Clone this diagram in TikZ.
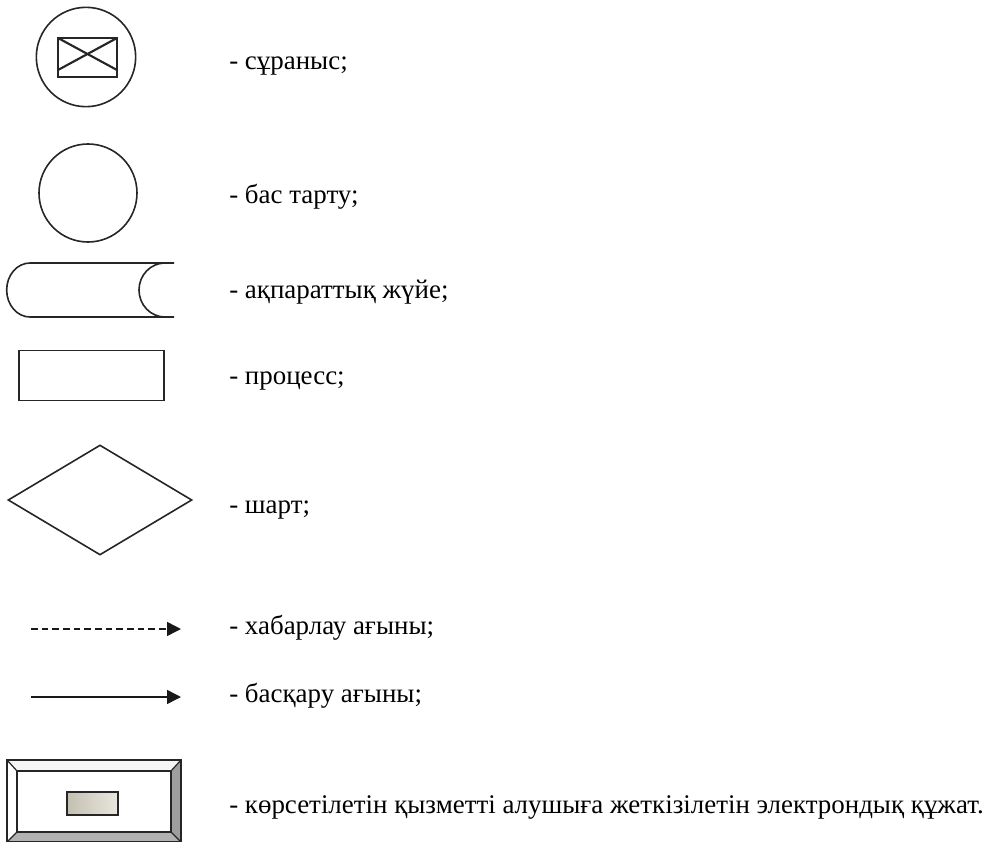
\documentclass[tikz,border=0pt]{standalone}
\usepackage{fontspec}
\setmainfont{Liberation Serif}
\usetikzlibrary{arrows.meta,shapes.geometric}
\definecolor{bevR}{gray}{0.62}
\definecolor{bevB}{gray}{0.70}
\definecolor{bevT}{gray}{0.96}
\definecolor{docA}{RGB}{196,192,176}
\definecolor{docB}{RGB}{232,230,222}
\tikzset{
  shp/.style={draw=black!85, line width=1.2pt},
  lbl/.style={anchor=base west, inner sep=0pt, font=\fontsize{20.2pt}{24pt}\selectfont, text=black},
  arr/.style={line width=1.1pt, draw=black!90, -{Triangle[length=10.5pt,width=10.5pt]}},
  dsh/.style={dash pattern=on 5pt off 3pt}
}
\begin{document}
\begin{tikzpicture}[x=0.75pt,y=-0.75pt]
\useasboundingbox (0,0) rectangle (986,842);
% 1 request
\node[shp, circle, minimum size=74.5pt, inner sep=0pt] (req) at (86,57) {};
\draw[line width=1.8pt, draw=black!85] (58,38) rectangle (117,77);
\draw[line width=1.6pt, draw=black!85] (58,38) -- (117,70) (58,70) -- (117,38);
\node[lbl] (t1) at (229,70) {- сұраныс;};
% 2 refusal
\node[shp, circle, minimum size=73.5pt, inner sep=0pt] (ref) at (88,193) {};
\node[lbl] (t2) at (229,203) {- бас тарту;};
% 3 information system
\coordinate (isA) at (30,263);
\coordinate (isB) at (165,263);
\draw[shp] (174,263) -- (isA) arc[start angle=90, end angle=270, x radius=17.5pt, y radius=20.25pt] -- (174,317);
\draw[shp] (isB) arc[start angle=90, end angle=270, x radius=19.5pt, y radius=20.25pt];
\node[lbl] (t3) at (229,298) {- ақпараттық жүйе;};
% 4 process
\node[shp, rectangle, minimum width=108.75pt, minimum height=37.5pt, inner sep=0pt] (proc) at (91.5,375.5) {};
\node[lbl] (t4) at (229,384) {- процесс;};
% 5 condition
\node[shp, diamond, minimum width=138pt, minimum height=82.5pt, inner sep=0pt] (cond) at (100,500) {};
\node[lbl] (t5) at (229,513) {- шарт;};
% 6 message flow
\coordinate (m1) at (31,629);
\coordinate (m2) at (181,629);
\draw[arr, dsh] (m1) -- (m2);
\node[lbl] (t6) at (229,634) {- хабарлау ағыны;};
% 7 control flow
\coordinate (c1) at (31,697);
\coordinate (c2) at (181,697);
\draw[arr] (c1) -- (c2);
\node[lbl] (t7) at (229,702) {- басқару ағыны;};
% 8 electronic document
\fill[bevT] (7,760) -- (181,760) -- (171,771) -- (17,771) -- cycle;
\fill[white] (7,760) -- (17,771) -- (17,832) -- (7,842) -- cycle;
\fill[bevR] (181,760) -- (171,771) -- (171,832) -- (181,842) -- cycle;
\fill[bevB] (7,842) -- (17,832) -- (171,832) -- (181,842) -- cycle;
\draw[line width=1.4pt, draw=black!85] (7,760) rectangle (181,842);
\draw[line width=1.1pt, draw=black!85] (17,771) rectangle (171,832);
\draw[line width=0.9pt, draw=black!85] (7,760) -- (17,771) (181,760) -- (171,771) (7,842) -- (17,832) (181,842) -- (171,832);
\node[draw=black!85, line width=1.4pt, left color=docA, right color=docB, minimum width=38.25pt, minimum height=17.25pt, inner sep=0pt] (doc) at (92.5,803.5) {};
\node[lbl] (t8) at (229,813) {- көрсетілетін қызметті алушыға жеткізілетін электрондық құжат.};
\end{tikzpicture}
\end{document}
